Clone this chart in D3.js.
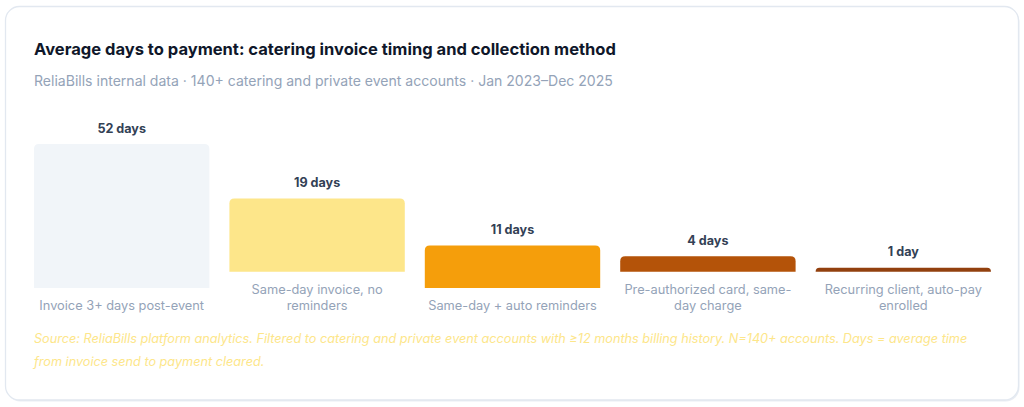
<!DOCTYPE html>
<html>
<head>
<meta charset="utf-8">
<script src="https://cdn.jsdelivr.net/npm/d3@7/dist/d3.min.js"></script>
<style>
  html, body { margin: 0; padding: 0; background: #ffffff; }
  svg { display: block; font-family: Inter, "Noto Sans", sans-serif; }
</style>
</head>
<body>
<svg id="chart" width="1024" height="407"></svg>
<script>
// ---- Data ----
const title = "Average days to payment: catering invoice timing and collection method";
const subtitle = "ReliaBills internal data · 140+ catering and private event accounts · Jan 2023–Dec 2025";
const categories = [
  "Invoice 3+ days post-event",
  "Same-day invoice, no reminders",
  "Same-day + auto reminders",
  "Pre-authorized card, same-day charge",
  "Recurring client, auto-pay enrolled"
];
const categoryLines = [
  ["Invoice 3+ days post-event"],
  ["Same-day invoice, no", "reminders"],
  ["Same-day + auto reminders"],
  ["Pre-authorized card, same-", "day charge"],
  ["Recurring client, auto-pay", "enrolled"]
];
const days = [52, 19, 11, 4, 1];
const valueLabels = ["52 days", "19 days", "11 days", "4 days", "1 day"];
const barColors = ["#f1f5f9", "#fde68a", "#f59e0b", "#b45309", "#92400e"];
const sourceLines = [
  "Source: ReliaBills platform analytics. Filtered to catering and private event accounts with ≥12 months billing history. N=140+ accounts. Days = average time",
  "from invoice send to payment cleared."
];

// ---- Layout ----
const svg = d3.select("#chart");

// card
svg.append("rect")
  .attr("x", 6.5).attr("y", 8).attr("width", 1013).attr("height", 393.5)
  .attr("rx", 14).attr("fill", "#e9edf3");
svg.append("rect")
  .attr("x", 5.5).attr("y", 6.5).attr("width", 1013).attr("height", 393.5)
  .attr("rx", 14).attr("fill", "#ffffff").attr("stroke", "#e2e8f0").attr("stroke-width", 1.3);

svg.append("text")
  .attr("x", 34).attr("y", 55)
  .attr("font-size", 16.55).attr("font-weight", 700).attr("fill", "#0f172a")
  .text(title);

svg.append("text")
  .attr("x", 34).attr("y", 86)
  .attr("font-size", 14.05).attr("fill", "#94a3b8")
  .text(subtitle);

const x = d3.scaleBand()
  .domain(categories)
  .range([34, 991])
  .paddingInner(0.1024)
  .paddingOuter(0);

const y = d3.scaleLinear().domain([0, 52]).range([0, 200]);
const plotTop = 144;
const lastLineCenter = 305.5;
const lineH = 16.2;

const cols = svg.append("g").selectAll("g")
  .data(categories.map((c, i) => ({ c, i, v: days[i], lines: categoryLines[i] })))
  .join("g");

function topRounded(x0, y0, w, h, r) {
  r = Math.min(r, h, w / 2);
  return `M${x0},${y0 + h}V${y0 + r}Q${x0},${y0} ${x0 + r},${y0}H${x0 + w - r}Q${x0 + w},${y0} ${x0 + w},${y0 + r}V${y0 + h}Z`;
}

cols.each(function (d) {
  const g = d3.select(this);
  const bx = x(d.c), bw = x.bandwidth(), cx = bx + bw / 2;
  const n = d.lines.length;
  const firstCenter = lastLineCenter - (n - 1) * lineH;
  const bottom = firstCenter - 17.6;
  const top = Math.max(bottom - y(d.v), plotTop);
  g.append("path")
    .attr("d", topRounded(bx, top, bw, bottom - top, 5))
    .attr("fill", barColors[d.i]);
  g.append("text")
    .attr("x", cx).attr("y", top - 11.5)
    .attr("text-anchor", "middle")
    .attr("font-size", 12.6).attr("font-weight", 700).attr("fill", "#334155")
    .text(valueLabels[d.i]);
  d.lines.forEach((ln, k) => {
    g.append("text")
      .attr("x", cx).attr("y", firstCenter + k * lineH + 4.6)
      .attr("text-anchor", "middle")
      .attr("font-size", 12.8).attr("fill", "#94a3b8")
      .text(ln);
  });
});

sourceLines.forEach((ln, k) => {
  svg.append("text")
    .attr("x", 34).attr("y", 343.3 + k * 22.4)
    .attr("font-size", 12.68).attr("font-style", "italic").attr("fill", "#fde68a")
    .text(ln);
});
</script>
</body>
</html>
